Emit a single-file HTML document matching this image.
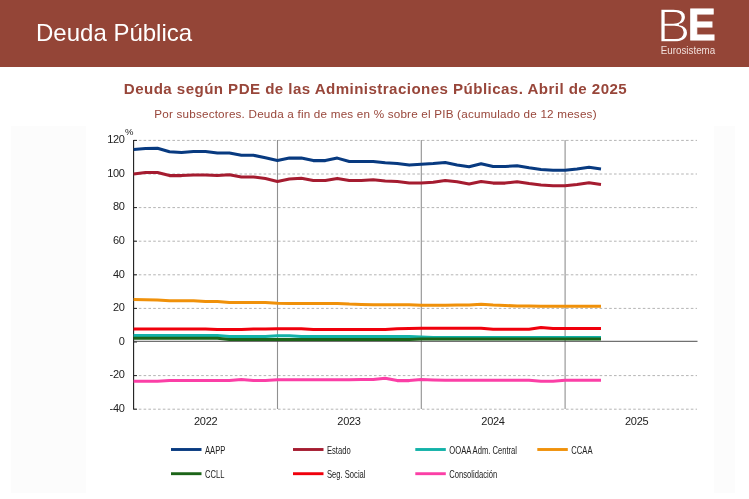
<!DOCTYPE html>
<html lang="es"><head><meta charset="utf-8"><title>Deuda Pública</title>
<style>
html,body{margin:0;padding:0;background:#fff;}
body{width:749px;height:499px;overflow:hidden;position:relative;font-family:"Liberation Sans",sans-serif;}
.hdr{position:absolute;left:0;top:0;width:749px;height:66.7px;background:#944537;}
.hdr h1{position:absolute;left:36px;top:18px;margin:0;font-weight:normal;font-size:24px;line-height:30px;color:#fff;letter-spacing:0;}
.logo{position:absolute;left:655px;top:0;width:70px;height:66px;}
.t1{position:absolute;left:0.8px;top:78.5px;width:749px;text-align:center;font-weight:bold;font-size:15.1px;letter-spacing:0.445px;line-height:20px;color:#98463a;}
.t2{position:absolute;left:1.1px;top:105.5px;width:749px;text-align:center;font-size:11.7px;letter-spacing:0.195px;line-height:16px;color:#98463a;}
.bgl{position:absolute;left:11px;top:126px;width:75px;height:367px;background:#fcfcfc;}
.bgr{position:absolute;left:714px;top:126px;width:21px;height:367px;background:#fcfcfc;}
svg.ch{position:absolute;left:0;top:0;will-change:transform;}
.hdr,.t1,.t2{will-change:transform;}
</style></head><body>
<div class="hdr"><h1>Deuda Pública</h1>
<svg class="logo" viewBox="0 0 70 66" width="70" height="66" font-family="Liberation Sans, sans-serif" fill="#fff">
<text x="1.55" y="41.55" font-size="48.6" font-weight="normal" stroke="#944537" stroke-width="1.4" textLength="33.9" lengthAdjust="spacingAndGlyphs">B</text>
<text x="32.9" y="40.1" font-size="43.6" font-weight="bold" stroke="#fff" stroke-width="1.0" textLength="27.6" lengthAdjust="spacingAndGlyphs">E</text>
<text x="5.8" y="53.6" font-size="10.2" fill="#f1dfdb" textLength="54.4" lengthAdjust="spacingAndGlyphs">Eurosistema</text>
</svg>
</div>
<div class="t1">Deuda según PDE de las Administraciones Públicas. Abril de 2025</div>
<div class="t2">Por subsectores. Deuda a fin de mes en % sobre el PIB (acumulado de 12 meses)</div>
<div class="bgl"></div><div class="bgr"></div>
<svg class="ch" width="749" height="499" viewBox="0 0 749 499" font-family="Liberation Sans, sans-serif" font-size="11" fill="#222">
<line x1="134" y1="140.4" x2="697" y2="140.4" stroke="#b4b4b4" stroke-width="1" stroke-dasharray="2.6,2.2"/>
<line x1="134" y1="174.0" x2="697" y2="174.0" stroke="#b4b4b4" stroke-width="1" stroke-dasharray="2.6,2.2"/>
<line x1="134" y1="207.6" x2="697" y2="207.6" stroke="#b4b4b4" stroke-width="1" stroke-dasharray="2.6,2.2"/>
<line x1="134" y1="241.2" x2="697" y2="241.2" stroke="#b4b4b4" stroke-width="1" stroke-dasharray="2.6,2.2"/>
<line x1="134" y1="274.8" x2="697" y2="274.8" stroke="#b4b4b4" stroke-width="1" stroke-dasharray="2.6,2.2"/>
<line x1="134" y1="308.4" x2="697" y2="308.4" stroke="#b4b4b4" stroke-width="1" stroke-dasharray="2.6,2.2"/>
<line x1="134" y1="375.6" x2="697" y2="375.6" stroke="#b4b4b4" stroke-width="1" stroke-dasharray="2.6,2.2"/>
<line x1="134" y1="409.2" x2="697" y2="409.2" stroke="#b4b4b4" stroke-width="1" stroke-dasharray="2.6,2.2"/>
<line x1="277.5" y1="140" x2="277.5" y2="409" stroke="#909090" stroke-width="1.1"/>
<line x1="421.3" y1="140" x2="421.3" y2="409" stroke="#909090" stroke-width="1.1"/>
<line x1="565.1" y1="140" x2="565.1" y2="409" stroke="#909090" stroke-width="1.1"/>

<line x1="133.6" y1="140" x2="133.6" y2="409.5" stroke="#1c1c1c" stroke-width="1.1"/>
<line x1="133.5" y1="140.4" x2="137" y2="140.4" stroke="#222" stroke-width="1"/>
<line x1="133.5" y1="174.0" x2="137" y2="174.0" stroke="#222" stroke-width="1"/>
<line x1="133.5" y1="207.6" x2="137" y2="207.6" stroke="#222" stroke-width="1"/>
<line x1="133.5" y1="241.2" x2="137" y2="241.2" stroke="#222" stroke-width="1"/>
<line x1="133.5" y1="274.8" x2="137" y2="274.8" stroke="#222" stroke-width="1"/>
<line x1="133.5" y1="308.4" x2="137" y2="308.4" stroke="#222" stroke-width="1"/>
<line x1="133.5" y1="342.0" x2="137" y2="342.0" stroke="#222" stroke-width="1"/>
<line x1="133.5" y1="375.6" x2="137" y2="375.6" stroke="#222" stroke-width="1"/>
<line x1="133.5" y1="409.2" x2="137" y2="409.2" stroke="#222" stroke-width="1"/>

<line x1="133.5" y1="341.3" x2="697.5" y2="341.3" stroke="#3a3a3a" stroke-width="0.9"/>
<polyline points="133.6,149.6 145.5,148.5 157.5,148.3 169.5,151.7 181.5,152.4 193.5,151.5 205.5,151.5 217.4,153.0 229.4,153.0 241.4,155.3 253.4,155.3 265.4,157.7 277.4,160.6 289.4,158.1 301.3,158.1 313.3,160.6 325.3,160.6 337.3,158.1 349.3,161.5 361.3,161.5 373.2,161.5 385.2,162.8 397.2,163.4 409.2,165.1 421.2,164.3 433.2,163.6 445.2,162.5 457.1,164.9 469.1,166.8 481.1,163.8 493.1,166.5 505.1,166.5 517.1,165.7 529.1,167.8 541.0,169.4 553.0,170.2 565.0,170.2 577.0,168.9 589.0,167.3 601.0,168.9" fill="none" stroke="#083a80" stroke-width="3.05" stroke-linejoin="round" stroke-linecap="butt"/>
<polyline points="133.6,174.0 145.5,172.5 157.5,172.5 169.5,175.6 181.5,175.6 193.5,175.0 205.5,175.0 217.4,175.6 229.4,174.8 241.4,176.9 253.4,176.9 265.4,178.4 277.4,181.5 289.4,179.0 301.3,178.3 313.3,180.5 325.3,180.5 337.3,178.4 349.3,180.5 361.3,180.5 373.2,179.7 385.2,180.9 397.2,181.4 409.2,182.9 421.2,182.9 433.2,182.3 445.2,180.5 457.1,181.7 469.1,183.9 481.1,181.5 493.1,183.1 505.1,183.1 517.1,181.7 529.1,183.6 541.0,184.9 553.0,185.7 565.0,185.7 577.0,184.4 589.0,182.8 601.0,184.4" fill="none" stroke="#a51c30" stroke-width="3.05" stroke-linejoin="round" stroke-linecap="butt"/>
<polyline points="133.6,335.5 145.5,335.5 157.5,335.5 169.5,335.5 181.5,335.5 193.5,335.5 205.5,335.5 217.4,335.5 229.4,336.6 241.4,336.6 253.4,336.6 265.4,336.6 277.4,335.7 289.4,335.7 301.3,336.6 313.3,336.6 325.3,336.6 337.3,336.6 349.3,336.6 361.3,336.6 373.2,336.6 385.2,336.6 397.2,336.6 409.2,336.6 421.2,336.9 433.2,337.4 445.2,337.4 457.1,337.4 469.1,337.4 481.1,337.4 493.1,337.4 505.1,337.4 517.1,337.4 529.1,337.4 541.0,337.4 553.0,337.4 565.0,337.4 577.0,337.4 589.0,337.4 601.0,337.4" fill="none" stroke="#12b2a8" stroke-width="3.05" stroke-linejoin="round" stroke-linecap="butt"/>
<polyline points="133.6,299.4 145.5,299.7 157.5,300.0 169.5,300.7 181.5,300.7 193.5,300.7 205.5,301.5 217.4,301.5 229.4,302.4 241.4,302.4 253.4,302.4 265.4,302.4 277.4,303.2 289.4,303.5 301.3,303.5 313.3,303.5 325.3,303.5 337.3,303.5 349.3,304.1 361.3,304.4 373.2,304.7 385.2,304.7 397.2,304.7 409.2,304.7 421.2,305.3 433.2,305.2 445.2,305.2 457.1,305.1 469.1,305.0 481.1,304.3 493.1,305.1 505.1,305.5 517.1,306.0 529.1,306.1 541.0,306.2 553.0,306.3 565.0,306.3 577.0,306.3 589.0,306.3 601.0,306.3" fill="none" stroke="#f0910a" stroke-width="3.05" stroke-linejoin="round" stroke-linecap="butt"/>
<polyline points="133.6,338.3 145.5,338.3 157.5,338.3 169.5,338.3 181.5,338.3 193.5,338.3 205.5,338.3 217.4,338.3 229.4,339.4 241.4,339.4 253.4,339.4 265.4,339.4 277.4,339.4 289.4,339.4 301.3,339.4 313.3,339.4 325.3,339.4 337.3,339.4 349.3,339.4 361.3,339.4 373.2,339.4 385.2,339.4 397.2,339.4 409.2,339.4 421.2,339.0 433.2,339.0 445.2,339.0 457.1,339.0 469.1,339.0 481.1,339.0 493.1,339.0 505.1,339.0 517.1,339.0 529.1,339.0 541.0,339.0 553.0,339.0 565.0,339.0 577.0,339.0 589.0,339.0 601.0,339.0" fill="none" stroke="#1c6418" stroke-width="3.05" stroke-linejoin="round" stroke-linecap="butt"/>
<polyline points="133.6,328.9 145.5,328.9 157.5,328.9 169.5,328.9 181.5,328.9 193.5,328.9 205.5,328.9 217.4,329.5 229.4,329.5 241.4,329.5 253.4,328.9 265.4,328.9 277.4,328.7 289.4,328.7 301.3,328.7 313.3,329.5 325.3,329.5 337.3,329.5 349.3,329.5 361.3,329.5 373.2,329.5 385.2,329.5 397.2,328.7 409.2,328.5 421.2,328.2 433.2,328.2 445.2,328.2 457.1,328.2 469.1,328.2 481.1,328.2 493.1,329.3 505.1,329.3 517.1,329.3 529.1,329.3 541.0,327.5 553.0,328.5 565.0,328.5 577.0,328.5 589.0,328.5 601.0,328.5" fill="none" stroke="#f0000c" stroke-width="3.05" stroke-linejoin="round" stroke-linecap="butt"/>
<polyline points="133.6,381.2 145.5,381.2 157.5,381.2 169.5,380.4 181.5,380.4 193.5,380.4 205.5,380.4 217.4,380.4 229.4,380.4 241.4,379.5 253.4,380.4 265.4,380.4 277.4,379.7 289.4,379.7 301.3,379.7 313.3,379.7 325.3,379.7 337.3,379.7 349.3,379.7 361.3,379.6 373.2,379.5 385.2,378.2 397.2,380.6 409.2,380.6 421.2,379.6 433.2,380.0 445.2,380.3 457.1,380.3 469.1,380.3 481.1,380.3 493.1,380.3 505.1,380.3 517.1,380.3 529.1,380.3 541.0,381.3 553.0,381.3 565.0,380.3 577.0,380.3 589.0,380.3 601.0,380.3" fill="none" stroke="#fb3fa6" stroke-width="3.05" stroke-linejoin="round" stroke-linecap="butt"/>

<text x="124.6" y="143.2" text-anchor="end" letter-spacing="-0.3">120</text>
<text x="124.6" y="176.8" text-anchor="end" letter-spacing="-0.3">100</text>
<text x="124.6" y="210.4" text-anchor="end" letter-spacing="-0.3">80</text>
<text x="124.6" y="244.0" text-anchor="end" letter-spacing="-0.3">60</text>
<text x="124.6" y="277.6" text-anchor="end" letter-spacing="-0.3">40</text>
<text x="124.6" y="311.2" text-anchor="end" letter-spacing="-0.3">20</text>
<text x="124.6" y="344.8" text-anchor="end" letter-spacing="-0.3">0</text>
<text x="124.6" y="378.4" text-anchor="end" letter-spacing="-0.3">-20</text>
<text x="124.6" y="412.0" text-anchor="end" letter-spacing="-0.3">-40</text>

<text x="124.9" y="134.7" font-size="9.5">%</text>
<text x="205.7" y="425.3" text-anchor="middle" letter-spacing="-0.3">2022</text>
<text x="349" y="425.3" text-anchor="middle" letter-spacing="-0.3">2023</text>
<text x="493" y="425.3" text-anchor="middle" letter-spacing="-0.3">2024</text>
<text x="636.7" y="425.3" text-anchor="middle" letter-spacing="-0.3">2025</text>

<line x1="171" y1="449.5" x2="201.5" y2="449.5" stroke="#083a80" stroke-width="2.9"/>
<text x="271.5" y="453.6" transform="scale(0.755,1)" font-size="10.1">AAPP</text>
<line x1="293" y1="449.5" x2="323.5" y2="449.5" stroke="#a51c30" stroke-width="2.9"/>
<text x="433.1" y="453.6" transform="scale(0.755,1)" font-size="10.1">Estado</text>
<line x1="415.3" y1="449.5" x2="445.8" y2="449.5" stroke="#12b2a8" stroke-width="2.9"/>
<text x="595.1" y="453.6" transform="scale(0.755,1)" font-size="10.1">OOAA Adm. Central</text>
<line x1="537.3" y1="449.5" x2="567.8" y2="449.5" stroke="#f0910a" stroke-width="2.9"/>
<text x="756.7" y="453.6" transform="scale(0.755,1)" font-size="10.1">CCAA</text>
<line x1="171" y1="473.7" x2="201.5" y2="473.7" stroke="#1c6418" stroke-width="2.9"/>
<text x="271.5" y="477.8" transform="scale(0.755,1)" font-size="10.1">CCLL</text>
<line x1="293" y1="473.7" x2="323.5" y2="473.7" stroke="#f0000c" stroke-width="2.9"/>
<text x="433.1" y="477.8" transform="scale(0.755,1)" font-size="10.1">Seg. Social</text>
<line x1="415.3" y1="473.7" x2="445.8" y2="473.7" stroke="#fb3fa6" stroke-width="2.9"/>
<text x="595.1" y="477.8" transform="scale(0.755,1)" font-size="10.1">Consolidación</text>

</svg>
</body></html>
